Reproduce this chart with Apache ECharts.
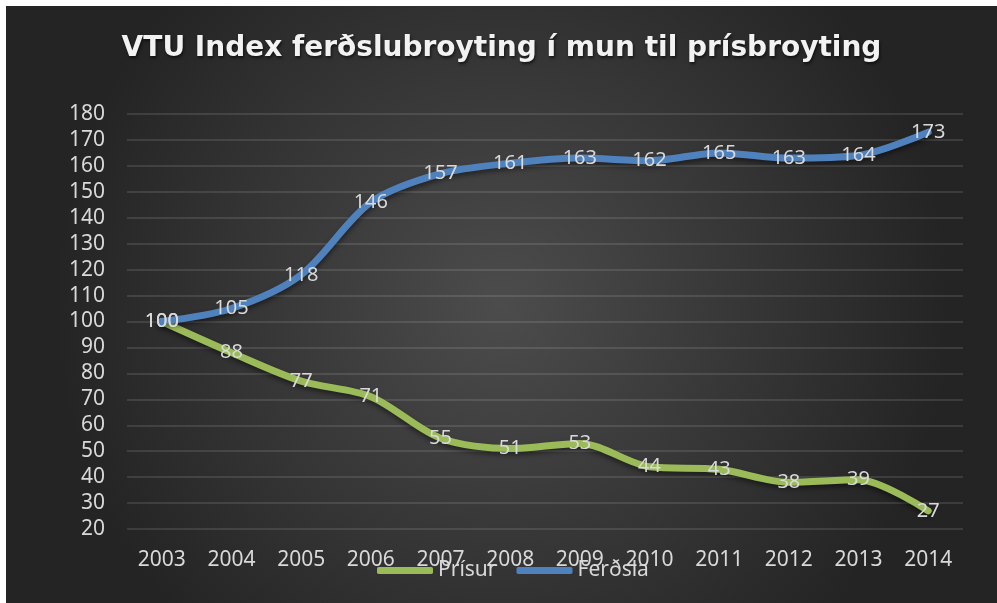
<!DOCTYPE html>
<html>
<head>
<meta charset="utf-8">
<script src="https://cdn.jsdelivr.net/npm/echarts@6/dist/echarts.min.js"></script>
<style>
  html, body { margin: 0; padding: 0; background: #fff; }
  #chart { position: absolute; left: 6px; top: 6px; width: 991px; height: 597px; }
</style>
</head>
<body>
<div id="chart"></div>
<script>
// data
const years = ['2003','2004','2005','2006','2007','2008','2009','2010','2011','2012','2013','2014']
const prisur = [100, 88, 77, 71, 55, 51, 53, 44, 43, 38, 39, 27]
const ferdsla = [100, 105, 118, 146, 157, 161, 163, 162, 165, 163, 164, 173]

const labelColor = '#d9d9d9'
const font = 'Noto Sans'

const chart = echarts.init(document.getElementById('chart'))

function lineSeries (name, data, color) {
  return {
    name: name,
    type: 'line',
    data: data,
    smooth: 0.3,
    symbol: 'circle',
    symbolSize: 1,
    itemStyle: { color: color },
    lineStyle: {
      color: color,
      width: 7,
      cap: 'round',
      shadowColor: 'rgba(0,0,0,0.45)',
      shadowBlur: 5,
      shadowOffsetY: 3
    },
    label: {
      show: true,
      position: 'inside',
      color: labelColor,
      fontFamily: font,
      fontSize: 20
    },
    emphasis: { disabled: true },
    z: 2
  }
}

chart.setOption({
  animation: false,
  backgroundColor: {
    type: 'radial',
    x: 0.5, y: 0.5, r: 0.75,
    colorStops: [
      { offset: 0, color: '#4c4c4c' },
      { offset: 1, color: '#242424' }
    ]
  },
  title: {
    text: 'VTU Index ferðslubroyting í mun til prísbroyting',
    left: 'center',
    top: 24,
    textStyle: {
      color: '#f2f2f2',
      fontFamily: 'DejaVu Sans',
      fontWeight: 'bold',
      fontSize: 28,
      textShadowColor: 'rgba(0,0,0,0.6)',
      textShadowBlur: 3,
      textShadowOffsetX: 1,
      textShadowOffsetY: 2
    }
  },
  grid: {
    left: 121,
    right: 34,
    top: 108,
    bottom: 74
  },
  legend: {
    left: 366,
    top: 549,
    itemWidth: 56,
    itemHeight: 7,
    itemGap: 20,
    icon: 'roundRect',
    textStyle: { color: labelColor, fontFamily: font, fontSize: 21 },
    data: ['Prísur', 'Ferðsla']
  },
  xAxis: {
    type: 'category',
    data: years,
    boundaryGap: true,
    axisLine: { show: false },
    axisTick: { show: false },
    axisLabel: { color: labelColor, fontFamily: font, fontSize: 21, margin: 21 }
  },
  yAxis: {
    type: 'value',
    min: 20,
    max: 180,
    interval: 10,
    axisLine: { show: false },
    axisTick: { show: false },
    splitLine: { lineStyle: { color: 'rgba(255,255,255,0.15)', width: 1.5 } },
    axisLabel: { color: labelColor, fontFamily: font, fontSize: 21, margin: 22 }
  },
  series: [
    lineSeries('Prísur', prisur, '#9bbb59'),
    lineSeries('Ferðsla', ferdsla, '#4f81bd')
  ]
})
</script>
</body>
</html>
